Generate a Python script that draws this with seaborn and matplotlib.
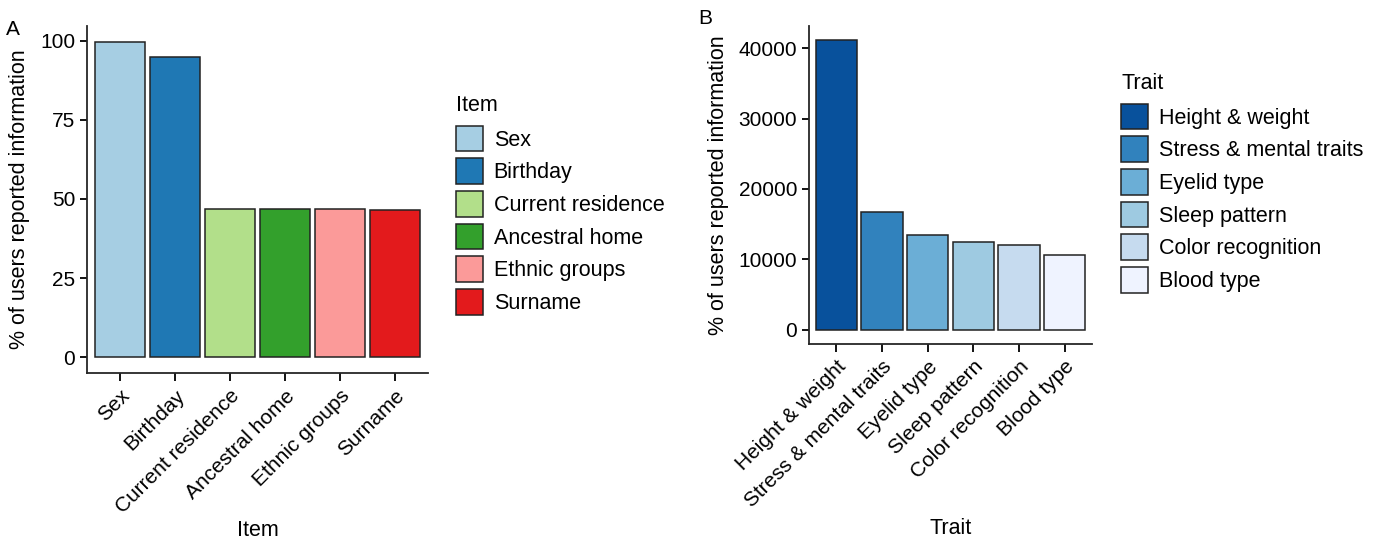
import pandas as pd
import seaborn as sns
import matplotlib.pyplot as plt

# Data
items = ['Sex', 'Birthday', 'Current residence', 'Ancestral home', 'Ethnic groups', 'Surname']
item_pct = [99.6, 94.9, 46.8, 46.8, 46.7, 46.5]
item_colors = ['#a6cee3', '#1f78b4', '#b2df8a', '#33a02c', '#fb9a99', '#e31a1c']

traits = ['Height & weight', 'Stress & mental traits', 'Eyelid type',
          'Sleep pattern', 'Color recognition', 'Blood type']
trait_counts = [41100, 16700, 13450, 12420, 12000, 10580]
trait_colors = ['#08519c', '#3182bd', '#6baed6', '#9ecae1', '#c6dbef', '#eff3ff']

df_a = pd.DataFrame({'Item': items, 'pct': item_pct})
df_b = pd.DataFrame({'Trait': traits, 'n': trait_counts})

sns.set_style('ticks')
plt.rcParams['font.family'] = ['Liberation Sans', 'DejaVu Sans']
plt.rcParams['text.color'] = 'black'
plt.rcParams['axes.labelcolor'] = 'black'
plt.rcParams['axes.linewidth'] = 1.3
plt.rcParams['xtick.major.width'] = 1.3
plt.rcParams['ytick.major.width'] = 1.3
plt.rcParams['xtick.major.size'] = 6
plt.rcParams['ytick.major.size'] = 5

fig = plt.figure(figsize=(13.81, 5.41), dpi=100)
ax1 = fig.add_axes([87 / 1381, 1 - 373 / 541, 341 / 1381, 347 / 541])
ax2 = fig.add_axes([809 / 1381, 1 - 344 / 541, 283 / 1381, 318 / 541])

legend_kw = dict(loc='upper left', bbox_transform=fig.transFigure, frameon=False,
                 fontsize=15.5, title_fontsize=15.5, handlelength=1.25, handleheight=1.45,
                 labelspacing=0.33, handletextpad=0.5, borderpad=0, borderaxespad=0,
                 alignment='left')

# Panel A
sns.barplot(data=df_a, x='Item', y='pct', hue='Item', palette=item_colors, order=items,
            hue_order=items, width=0.9, edgecolor='#222222', linewidth=1.1,
            saturation=1, legend=True, ax=ax1)
ax1.set_xlim(-0.6, 5.6)
ax1.set_ylim(-4.98, 104.6)
ax1.set_yticks([0, 25, 50, 75, 100])
ax1.set_ylabel('% of users reported information', fontsize=15.5, labelpad=7)
ax1.set_xlabel('Item', fontsize=15.5, labelpad=2)
sns.move_legend(ax1, bbox_to_anchor=(456 / 1381, 1 - 95 / 541), title='Item', **legend_kw)

# Panel B
sns.barplot(data=df_b, x='Trait', y='n', hue='Trait', palette=trait_colors, order=traits,
            hue_order=traits, width=0.9, edgecolor='#222222', linewidth=1.1,
            saturation=1, legend=True, ax=ax2)
ax2.set_xlim(-0.6, 5.6)
ax2.set_ylim(-2055, 43150)
ax2.set_yticks([0, 10000, 20000, 30000, 40000])
ax2.set_ylabel('% of users reported information', fontsize=15.5, labelpad=7)
ax2.set_xlabel('Trait', fontsize=15.5, labelpad=5)
sns.move_legend(ax2, bbox_to_anchor=(1121 / 1381, 1 - 73 / 541), title='Trait', **legend_kw)

for ax in (ax1, ax2):
    sns.despine(ax=ax)
    ax.tick_params(axis='both', labelsize=15, colors='black')
    plt.setp(ax.get_xticklabels(), rotation=45, ha='right', va='top', rotation_mode='anchor')
    ax.get_legend()._legend_box.sep = 7

fig.text(6 / 1381, 1 - 35 / 541, 'A', fontsize=15)
fig.text(698 / 1381, 1 - 24 / 541, 'B', fontsize=15)

plt.savefig('out.png', dpi=100)
